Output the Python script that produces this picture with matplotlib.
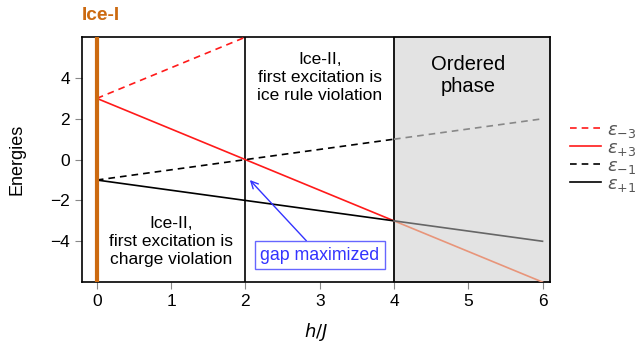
import matplotlib
matplotlib.use("Agg")
import matplotlib.pyplot as plt
from matplotlib.patches import Rectangle

plt.rcParams['font.family'] = ['Liberation Sans', 'DejaVu Sans']
plt.rcParams['mathtext.fontset'] = 'dejavusans'

# Data
h_m3 = [0, 2]
eps_m3 = [3, 6]
h_lo = [0, 4]
h_hi = [4, 6]
eps_p3_lo = [3, -3]
eps_p3_hi = [-3, -6]
eps_m1_lo = [-1, 1]
eps_m1_hi = [1, 2]
eps_p1_lo = [-1, -3]
eps_p1_hi = [-3, -4]
xticks = [0, 1, 2, 3, 4, 5, 6]
yticks = [-4, -2, 0, 2, 4]
boundaries = [2, 4]
ice1_h = 0

fig = plt.figure(figsize=(6.38, 3.44), dpi=100)
ax = fig.add_axes([0.1285, 0.180, 0.7335, 0.712])
ax.set_xlim(-0.2, 6.1)
ax.set_ylim(-6, 6)

# ordered phase shading
ax.add_patch(Rectangle((4, -6), 2.1, 12, facecolor='#e3e3e3', edgecolor='#999999',
                       lw=1.2, zorder=0.5, clip_on=False))

for b in boundaries:
    ax.axvline(b, color='black', lw=1.2, zorder=2)
ax.axvline(ice1_h, color='#cc6a10', lw=3, zorder=4)

l1, = ax.plot(h_m3, eps_m3, color='#ff1a1a', ls=(0, (4, 3)), lw=1.2, label=r'$\varepsilon_{-3}$', zorder=3)
l2, = ax.plot(h_lo, eps_p3_lo, color='#ff1a1a', lw=1.2, label=r'$\varepsilon_{+3}$', zorder=3)
ax.plot(h_hi, eps_p3_hi, color='#e8957a', lw=1.2, zorder=3)
l3, = ax.plot(h_lo, eps_m1_lo, color='black', ls=(0, (4, 3)), lw=1.2, label=r'$\varepsilon_{-1}$', zorder=3)
ax.plot(h_hi, eps_m1_hi, color='#888888', ls=(0, (4, 3)), lw=1.2, zorder=3)
l4, = ax.plot(h_lo, eps_p1_lo, color='black', lw=1.2, label=r'$\varepsilon_{+1}$', zorder=3)
ax.plot(h_hi, eps_p1_hi, color='#666666', lw=1.2, zorder=3)

for s in ['top', 'right', 'left', 'bottom']:
    ax.spines[s].set_linewidth(1.2)
ax.set_xticks(xticks)
ax.set_yticks(yticks)
ax.set_yticklabels([str(v).replace('-', '\u2212') for v in yticks])
ax.tick_params(labelsize=12.5, length=5, width=0.8, color='#888888')
ax.tick_params(top=False, right=False)
ax.set_xlabel(r'$h/J$', fontsize=13, labelpad=9)
ax.set_ylabel('Energies', fontsize=13, labelpad=18)

ax.text(3, 4.0, 'Ice-II,\nfirst excitation is\nice rule violation', ha='center', va='center',
        fontsize=12.5, linespacing=1.25, zorder=5)
ax.text(5, 4.1, 'Ordered\nphase', ha='center', va='center', fontsize=14.5,
        linespacing=1.2, zorder=5)
ax.text(1, -4.0, 'Ice-II,\nfirst excitation is\ncharge violation', ha='center', va='center',
        fontsize=12.5, linespacing=1.25, zorder=5)

ax.annotate('gap maximized', xy=(2.06, -1.0), xytext=(3.0, -4.68),
            ha='center', va='center', fontsize=12.8, color='#3333ff',
            bbox=dict(boxstyle='square,pad=0.3', fc='white', ec='#6666ff', lw=1),
            arrowprops=dict(arrowstyle='->', color='#3333ff', lw=1, shrinkA=0, shrinkB=0),
            zorder=6)

fig.text(101 / 638, 1 - 16 / 344, 'Ice-I', ha='center', va='center', fontsize=13.8,
         fontweight='bold', color='#cc6a10')

leg = fig.legend(handles=[l1, l2, l3, l4], loc='center left',
                 bbox_to_anchor=(0.893, 0.542), frameon=False, fontsize=13,
                 handlelength=1.75, handletextpad=0.3, labelspacing=0.0,
                 borderaxespad=0, borderpad=0)
for t in leg.get_texts():
    t.set_color('#555555')

fig.savefig('out.png', dpi=100)
